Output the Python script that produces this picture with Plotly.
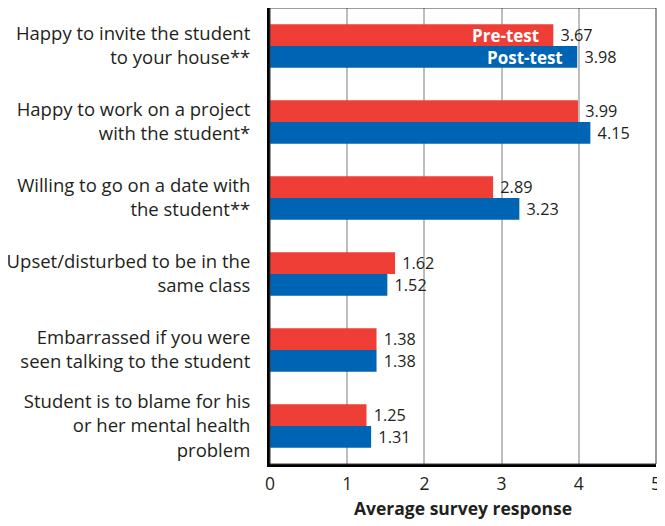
import plotly.graph_objects as go

categories = [
    "Happy to invite the student<br>to your house**",
    "Happy to work on a project<br>with the student*",
    "Willing to go on a date with<br>the student**",
    "Upset/disturbed to be in the<br>same class",
    "Embarrassed if you were<br>seen talking to the student",
    "Student is to blame for his<br>or her mental health<br>problem",
]
pre_test = [3.67, 3.99, 2.89, 1.62, 1.38, 1.25]
post_test = [3.98, 4.15, 3.23, 1.52, 1.38, 1.31]
series_names = ["Pre-test", "Post-test"]
x_ticks = [0, 1, 2, 3, 4, 5]

RED = "#EF3E36"
BLUE = "#0064B4"
FONT = "Open Sans, sans-serif"
TXT = "#231F20"
NB = "\u00a0"

fig = go.Figure()
fig.add_trace(go.Bar(
    y=categories, x=pre_test, orientation="h", name=series_names[0],
    marker=dict(color=RED, line=dict(width=0)),
    text=[f"{NB}{v:.2f}" for v in pre_test], textposition="outside",
    textfont=dict(family=FONT, size=18, color=TXT), cliponaxis=False,
))
fig.add_trace(go.Bar(
    y=categories, x=post_test, orientation="h", name=series_names[1],
    marker=dict(color=BLUE, line=dict(width=0)),
    text=[f"{NB}{v:.2f}" for v in post_test], textposition="outside",
    textfont=dict(family=FONT, size=18, color=TXT), cliponaxis=False,
))

# in-bar series labels on the first category
fig.add_annotation(x=pre_test[0], y=categories[0], text="<b>Pre-test</b>",
                   xanchor="right", yanchor="middle", xshift=-12, yshift=11,
                   showarrow=False, font=dict(family=FONT, size=17, color="white"))
fig.add_annotation(x=post_test[0], y=categories[0], text="<b>Post-test</b>",
                   xanchor="right", yanchor="middle", xshift=-12, yshift=-11,
                   showarrow=False, font=dict(family=FONT, size=17, color="white"))

# thin frame around plot area
fig.add_shape(type="rect", xref="paper", yref="paper", x0=0, x1=1, y0=0, y1=1,
              line=dict(color="#3a3a3a", width=1), layer="above")

fig.update_layout(
    width=657, height=512,
    margin=dict(l=262, r=9, t=0, b=56),
    barmode="group", bargap=0.43, bargroupgap=0,
    showlegend=False,
    plot_bgcolor="white", paper_bgcolor="white",
    font=dict(family=FONT, size=17, color=TXT),
    xaxis=dict(
        range=[0, 5], tickvals=x_ticks, ticktext=[str(t) for t in x_ticks],
        showgrid=True, gridcolor="#BDBDBD", gridwidth=1.5,
        showline=True, linecolor="black", linewidth=3,
        zeroline=False, ticks="", ticklabelstandoff=2,
        ticklabeloverflow="allow",
        title=dict(text="<b>Average survey response</b>", font=dict(size=17.5), standoff=13),
        tickfont=dict(size=17.5),
    ),
    yaxis=dict(
        autorange="reversed", showgrid=False,
        showline=True, linecolor="black", linewidth=3,
        ticks="", ticklabelstandoff=13, tickfont=dict(size=18.5),
    ),
)

fig.write_html("out.html")
